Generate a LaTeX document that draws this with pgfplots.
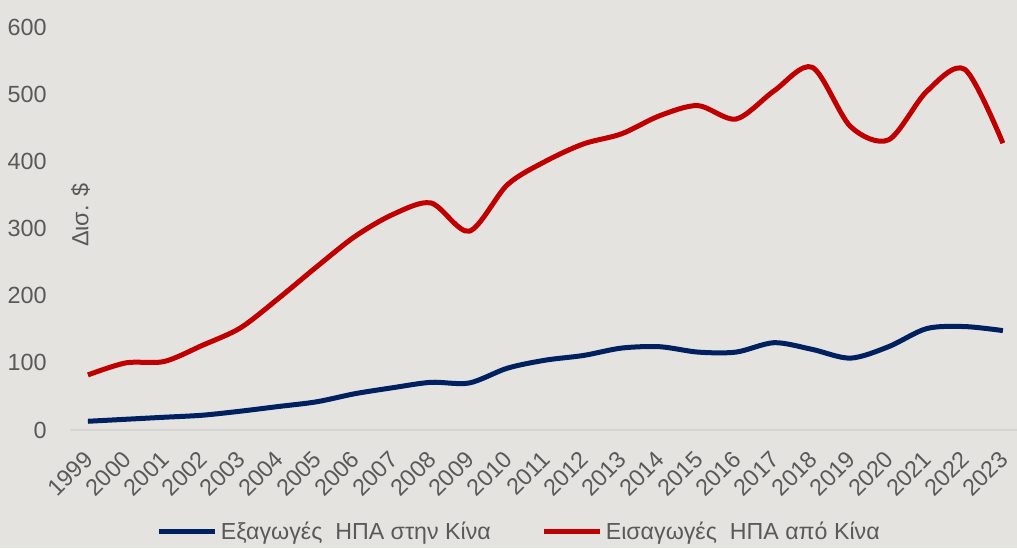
\documentclass[border=0pt]{standalone}
\usepackage{fontspec}
\setmainfont{Liberation Sans}
\usepackage{pgfplots}
\pgfplotsset{compat=1.18}
\definecolor{bgc}{HTML}{E4E3DF}
\definecolor{txt}{HTML}{595959}
\definecolor{exp}{HTML}{002060}
\definecolor{imp}{HTML}{C00000}
\definecolor{axl}{HTML}{D6D5D1}

\begin{document}
\begin{tikzpicture}
\useasboundingbox (-35pt,-59pt) rectangle (473.5pt,215pt);
\fill[bgc] (-35pt,-59pt) rectangle (473.5pt,215pt);
\begin{axis}[
    at={(0,0)}, anchor=south west,
    scale only axis,
    width=473.5pt, height=201.5pt,
    xmin=1998.53, xmax=2023.37,
    ymin=0, ymax=600,
    axis x line*=bottom, axis y line*=left,
    x axis line style={draw=axl, line width=1pt, -},
    y axis line style={draw=none},
    major tick length=0pt,
    xtick={1999,...,2023},
    ytick={0,100,...,600},
    /pgf/number format/assume math mode=true,
    /pgf/number format/1000 sep={},
    tick label style={font=\fontsize{11.7}{13}\selectfont, text=txt},
    yticklabel style={anchor=east, inner sep=0pt, xshift=-11.5pt},
    xticklabel style={inner sep=0pt, xshift=0.5pt, yshift=-12.5pt, rotate=45, anchor=east},
    ylabel={Δισ. \$},
    ylabel style={at={(axis description cs:0.011,0.533)}, anchor=center,
        font=\fontsize{11.7}{13}\selectfont, text=txt},
    legend columns=2,
    legend style={at={(axis description cs:0.475,-0.253)}, anchor=center,
        draw=none, fill=none, font=\fontsize{11.6}{14}\selectfont, text=txt,
        nodes={inner xsep=1.5pt},
        /tikz/every even column/.append style={column sep=24pt}},
    legend image code/.code={\draw[#1] (0pt,0pt) -- (28pt,0pt);},
    every axis plot/.append style={line width=2.5pt, smooth, tension=0.5, mark=none},
]
\addplot[exp] coordinates {
    (1999,13) (2000,16) (2001,19) (2002,22) (2003,28) (2004,35)
    (2005,42) (2006,54) (2007,63) (2008,71) (2009,70) (2010,92)
    (2011,104) (2012,111) (2013,122) (2014,124) (2015,116) (2016,116)
    (2017,130) (2018,120) (2019,107) (2020,124) (2021,151) (2022,154)
    (2023,148)
};
\addlegendentry{Εξαγωγές\ \ ΗΠΑ στην Κίνα}
\addplot[imp] coordinates {
    (1999,82) (2000,100) (2001,102) (2002,126) (2003,152) (2004,196)
    (2005,243) (2006,288) (2007,321) (2008,338) (2009,296) (2010,365)
    (2011,400) (2012,426) (2013,441) (2014,468) (2015,483) (2016,463)
    (2017,505) (2018,540) (2019,452) (2020,432) (2021,504) (2022,537)
    (2023,427)
};
\addlegendentry{Εισαγωγές\ \ ΗΠΑ από Κίνα}
\end{axis}
\end{tikzpicture}
\end{document}
